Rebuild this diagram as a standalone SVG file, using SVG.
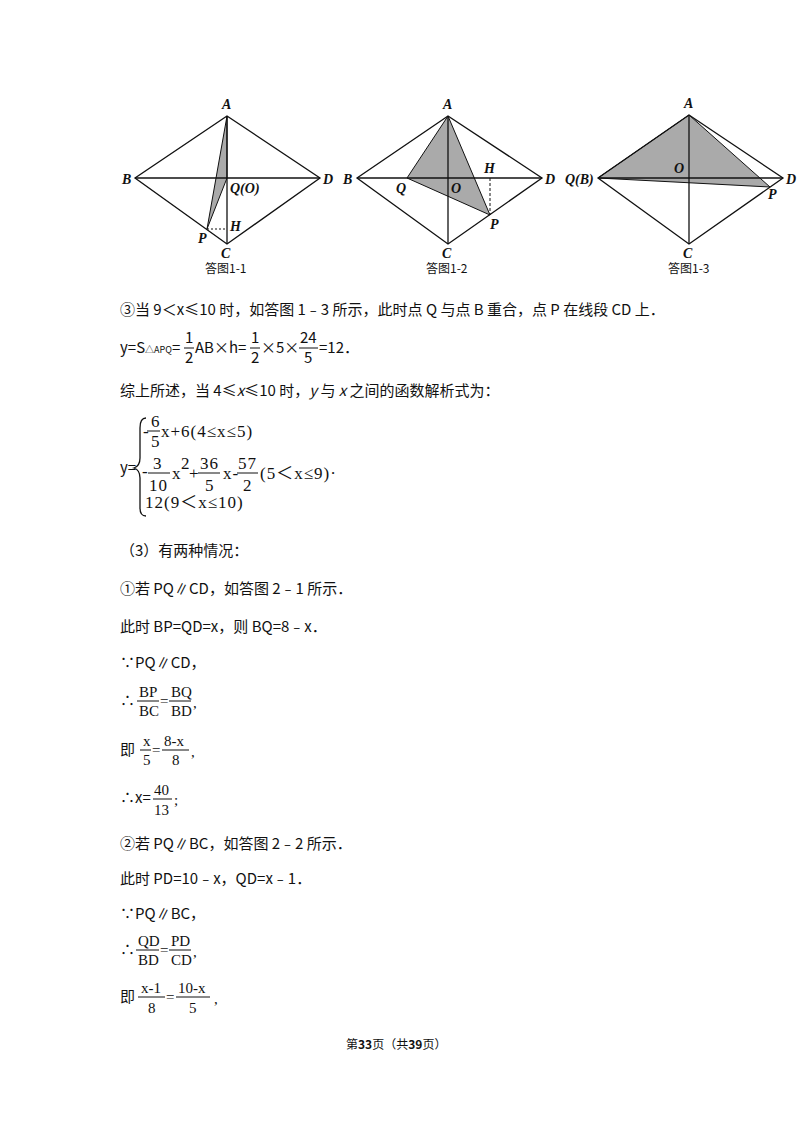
<svg xmlns="http://www.w3.org/2000/svg" width="800" height="1132" viewBox="0 0 800 1132">
<style>
.t{font-family:"Noto Sans CJK SC","Liberation Sans",sans-serif;font-size:15px;fill:#111}
.m{font-family:"Liberation Serif","Noto Sans CJK SC",serif;font-size:15px;fill:#111}
.p{font-family:"Liberation Serif","Noto Sans CJK SC",serif;font-size:17px;fill:#111;letter-spacing:1px}
.l{font-family:"Liberation Serif",serif;font-style:italic;font-weight:bold;font-size:14px;fill:#111}
.c{font-family:"Noto Sans CJK SC",serif;font-size:12px;fill:#111}
.e{stroke:#111;stroke-width:1.3;fill:none}
.f{stroke:#111;stroke-width:1;fill:#aaa}
.fr{stroke:#111;stroke-width:1}
</style>
<rect width="800" height="1132" fill="#fff"/>
<g id="fig1">
<polygon class="f" points="227,116 207,229 227,178"/>
<polygon class="e" points="227,116 320,178 227,244 135,178"/>
<line class="e" x1="135" y1="178" x2="320" y2="178"/><line class="e" x1="227" y1="116" x2="227" y2="244"/>
<line x1="207" y1="229" x2="227" y2="229" stroke="#111" stroke-dasharray="2,2"/>
<text class="l" x="222" y="109">A</text><text class="l" x="122" y="184">B</text><text class="l" x="323" y="184">D</text>
<text class="l" x="230" y="193">Q(O)</text><text class="l" x="230" y="231">H</text><text class="l" x="198" y="243">P</text><text class="l" x="221" y="258">C</text>
<text class="c" x="205" y="273">答图1-1</text>
</g>
<g id="fig2">
<polygon class="f" points="448,116 407,178 490,215"/>
<polygon class="e" points="448,116 542,178 448,244 357,178"/>
<line class="e" x1="357" y1="178" x2="542" y2="178"/><line class="e" x1="448" y1="116" x2="448" y2="244"/>
<line x1="490" y1="178" x2="490" y2="215" stroke="#111" stroke-dasharray="3,2"/>
<text class="l" x="443" y="109">A</text><text class="l" x="343" y="184">B</text><text class="l" x="545" y="184">D</text>
<text class="l" x="396" y="193">Q</text><text class="l" x="451" y="193">O</text><text class="l" x="484" y="173">H</text><text class="l" x="490" y="229">P</text><text class="l" x="442" y="258">C</text>
<text class="c" x="426" y="273">答图1-2</text>
</g>
<g id="fig3">
<polygon class="f" points="689,115 598,178 770,187"/>
<polygon class="e" points="689,115 783,178 689,244 598,178"/>
<line class="e" x1="598" y1="178" x2="783" y2="178"/><line class="e" x1="689" y1="115" x2="689" y2="244"/>
<text class="l" x="684" y="108">A</text><text class="l" x="565" y="184">Q(B)</text><text class="l" x="786" y="184">D</text>
<text class="l" x="674" y="173">O</text><text class="l" x="768" y="199">P</text><text class="l" x="683" y="258">C</text>
<text class="c" x="668" y="273">答图1-3</text>
</g>
<g id="text">
<text class="t" x="120" y="315">③当 9＜x≤10 时，如答图 1﹣3 所示，此时点 Q 与点 B 重合，点 P 在线段 CD 上．</text>
<text class="t" x="120" y="353">y=S<tspan font-size="9">△APQ</tspan>=</text>
<text class="t" x="185" y="343">1</text><line class="fr" x1="184" y1="348" x2="194" y2="348"/><text class="t" x="185" y="363">2</text>
<text class="t" x="195" y="353">AB×h=</text>
<text class="t" x="251" y="343">1</text><line class="fr" x1="250" y1="348" x2="260" y2="348"/><text class="t" x="251" y="363">2</text>
<text class="t" x="261" y="353">×5×</text>
<text class="t" x="300" y="343">24</text><line class="fr" x1="299" y1="348" x2="318" y2="348"/><text class="t" x="304" y="363">5</text>
<text class="t" x="319" y="353">=12．</text>
<text class="t" x="120" y="396">综上所述，当 4≤<tspan font-style="italic">x</tspan>≤10 时，<tspan font-style="italic">y</tspan> 与 <tspan font-style="italic">x</tspan> 之间的函数解析式为：</text>
<text class="t" x="120" y="473">y=</text>
<path d="M146,418 Q140,418 140,428 L140,458 Q140,466 134,468 Q140,470 140,478 L140,508 Q140,516 146,516" class="e" stroke-width="1"/>
<text class="p" x="151" y="427">6</text><line class="fr" x1="147" y1="431" x2="160" y2="431"/><text class="p" x="151" y="447">5</text>
<text class="p" x="143" y="437">-</text><text class="p" x="161" y="437">x+6(4≤x≤5)</text>
<text class="p" x="153" y="469">3</text><line class="fr" x1="148" y1="473" x2="170" y2="473"/><text class="p" x="149" y="491">10</text>
<text class="p" x="142" y="477">-</text><text class="p" x="172" y="479">x</text><text class="p" x="181" y="469" font-size="12">2</text><text class="p" x="189" y="479">+</text>
<text class="p" x="200" y="469">36</text><line class="fr" x1="198" y1="473" x2="220" y2="473"/><text class="p" x="205" y="491">5</text>
<text class="p" x="223" y="479">x-</text>
<text class="p" x="238" y="469">57</text><line class="fr" x1="237" y1="473" x2="258" y2="473"/><text class="p" x="243" y="491">2</text>
<text class="p" x="260" y="479">(5＜x≤9)·</text>
<text class="p" x="145" y="508">12(9＜x≤10)</text>
<text class="t" x="120" y="556">（3）有两种情况：</text>
<text class="t" x="120" y="594">①若 PQ∥CD，如答图 2﹣1 所示．</text>
<text class="t" x="120" y="632">此时 BP=QD=x，则 BQ=8﹣x．</text>
<text class="t" x="120" y="668">∵PQ∥CD，</text>
<text class="t" x="120" y="706">∴</text>
<text class="m" x="139" y="697">BP</text><line class="fr" x1="137" y1="701" x2="159" y2="701"/><text class="m" x="139" y="716">BC</text>
<text class="m" x="160" y="706">=</text>
<text class="m" x="171" y="697">BQ</text><line class="fr" x1="169" y1="701" x2="191" y2="701"/><text class="m" x="171" y="716">BD</text>
<text class="m" x="193" y="708">,</text>
<text class="t" x="120" y="755">即</text>
<text class="m" x="143" y="746">x</text><line class="fr" x1="140" y1="750" x2="151" y2="750"/><text class="m" x="143" y="765">5</text>
<text class="m" x="152" y="755">=</text>
<text class="m" x="164" y="746">8-x</text><line class="fr" x1="162" y1="750" x2="189" y2="750"/><text class="m" x="172" y="765">8</text>
<text class="m" x="191" y="757">,</text>
<text class="t" x="120" y="803">∴x=</text>
<text class="m" x="154" y="795">40</text><line class="fr" x1="153" y1="799" x2="172" y2="799"/><text class="m" x="154" y="815">13</text>
<text class="m" x="174" y="805">;</text>
<text class="t" x="120" y="849">②若 PQ∥BC，如答图 2﹣2 所示．</text>
<text class="t" x="120" y="884">此时 PD=10﹣x，QD=x﹣1．</text>
<text class="t" x="120" y="919">∵PQ∥BC，</text>
<text class="t" x="120" y="955">∴</text>
<text class="m" x="138" y="946">QD</text><line class="fr" x1="136" y1="950" x2="159" y2="950"/><text class="m" x="138" y="965">BD</text>
<text class="m" x="160" y="955">=</text>
<text class="m" x="171" y="946">PD</text><line class="fr" x1="169" y1="950" x2="191" y2="950"/><text class="m" x="171" y="965">CD</text>
<text class="m" x="193" y="957">,</text>
<text class="t" x="120" y="1002">即</text>
<text class="m" x="141" y="993">x-1</text><line class="fr" x1="138" y1="997" x2="165" y2="997"/><text class="m" x="148" y="1013">8</text>
<text class="m" x="166" y="1002">=</text>
<text class="m" x="178" y="993">10-x</text><line class="fr" x1="176" y1="997" x2="210" y2="997"/><text class="m" x="189" y="1013">5</text>
<text class="m" x="214" y="1004">,</text>
<text class="c" x="346" y="1049">第<tspan font-weight="bold">33</tspan>页（共<tspan font-weight="bold">39</tspan>页）</text>
</g>
</svg>
